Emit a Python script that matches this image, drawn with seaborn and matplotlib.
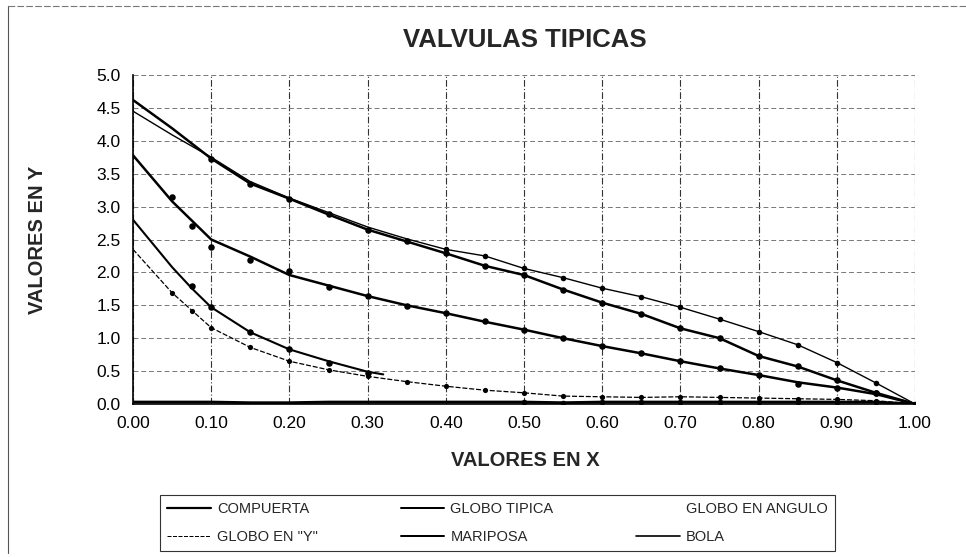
import numpy as np
import pandas as pd
import matplotlib
matplotlib.use("Agg")
import matplotlib.pyplot as plt
from matplotlib.lines import Line2D
import seaborn as sns

sns.set_theme(style="white")
plt.rcParams['font.family'] = ['Liberation Sans', 'DejaVu Sans']

# ---------------- data ----------------
x_full = [0.00, 0.05, 0.10, 0.15, 0.20, 0.25, 0.30, 0.35, 0.40, 0.45, 0.50,
          0.55, 0.60, 0.65, 0.70, 0.75, 0.80, 0.85, 0.90, 0.95, 1.00]

globo_tipica = [4.62, 4.19, 3.73, 3.35, 3.12, 2.88, 2.65, 2.47, 2.29, 2.10, 1.96,
                1.74, 1.54, 1.37, 1.15, 1.00, 0.73, 0.57, 0.36, 0.17, 0.00]
globo_angulo = [4.45, 4.09, 3.75, 3.38, 3.13, 2.91, 2.69, 2.51, 2.35, 2.25, 2.06,
                1.92, 1.76, 1.63, 1.47, 1.29, 1.10, 0.90, 0.63, 0.32, 0.00]
mariposa_line = [3.78, 3.08, 2.50, 2.24, 1.96, 1.80, 1.64, 1.50, 1.38, 1.25, 1.13,
                 1.00, 0.88, 0.77, 0.65, 0.54, 0.44, 0.33, 0.25, 0.15, 0.00]
mariposa_pts_x = [0.05, 0.075, 0.10, 0.15, 0.20, 0.25, 0.30, 0.35, 0.40, 0.45, 0.50,
                  0.55, 0.60, 0.65, 0.70, 0.75, 0.80, 0.85, 0.90, 0.95]
mariposa_pts_y = [3.15, 2.70, 2.38, 2.19, 2.02, 1.78, 1.64, 1.49, 1.38, 1.26, 1.12,
                  1.00, 0.88, 0.77, 0.65, 0.54, 0.44, 0.31, 0.25, 0.17]
bola_x = [0.00, 0.05, 0.075, 0.10, 0.15, 0.20, 0.25, 0.30, 0.32]
bola = [2.80, 2.08, 1.76, 1.47, 1.09, 0.83, 0.65, 0.49, 0.45]
bola_pts_x = [0.075, 0.10, 0.15, 0.20, 0.25, 0.30]
bola_pts_y = [1.79, 1.47, 1.09, 0.83, 0.63, 0.47]
globo_y = [2.35, 1.69, 1.16, 0.86, 0.65, 0.52, 0.42, 0.34, 0.27, 0.21, 0.17,
           0.12, 0.11, 0.10, 0.11, 0.10, 0.09, 0.08, 0.07, 0.05, 0.00]
compuerta = [0.03, 0.03, 0.03, 0.02, 0.02, 0.03, 0.03, 0.03, 0.03, 0.03, 0.03,
             0.02, 0.03, 0.03, 0.03, 0.03, 0.03, 0.03, 0.03, 0.03, 0.00]

x_ticks = [0.0, 0.1, 0.2, 0.3, 0.4, 0.5, 0.6, 0.7, 0.8, 0.9, 1.0]
y_ticks = [0.0, 0.5, 1.0, 1.5, 2.0, 2.5, 3.0, 3.5, 4.0, 4.5, 5.0]
labels = ["COMPUERTA", "GLOBO TIPICA", "GLOBO EN ANGULO",
          'GLOBO EN "Y"', "MARIPOSA", "BOLA"]

# ---------------- figure ----------------
W, H = 966, 557
fig = plt.figure(figsize=(W / 100, H / 100), dpi=100)
ax = fig.add_axes([133 / W, 1 - 404 / H, (915 - 133) / W, (404 - 75) / H])

styles = {
    "GLOBO TIPICA": dict(lw=1.8, ls="-"),
    "GLOBO EN ANGULO": dict(lw=1.0, ls="-"),
    "MARIPOSA": dict(lw=1.8, ls="-"),
    "BOLA": dict(lw=1.5, ls="-"),
    'GLOBO EN "Y"': dict(lw=0.9, ls=(0, (4, 1.5))),
    "COMPUERTA": dict(lw=2.0, ls="-"),
}

def line(xs, ys, name):
    df = pd.DataFrame({"x": xs, "y": ys})
    sns.lineplot(data=df, x="x", y="y", ax=ax, color="black", sort=True,
                 linewidth=styles[name]["lw"], linestyle=styles[name]["ls"],
                 legend=False)

def pts(xs, ys, s=22):
    df = pd.DataFrame({"x": xs, "y": ys})
    sns.scatterplot(data=df, x="x", y="y", ax=ax, color="black", s=s,
                    edgecolor="black", linewidth=0, legend=False, zorder=5)

line(x_full, globo_tipica, "GLOBO TIPICA")
line(x_full, globo_angulo, "GLOBO EN ANGULO")
line(x_full, mariposa_line, "MARIPOSA")
line(bola_x, bola, "BOLA")
line(x_full, globo_y, 'GLOBO EN "Y"')
line(x_full, compuerta, "COMPUERTA")

pts(x_full[2:-1], globo_tipica[2:-1])
pts(x_full[8:-1], globo_angulo[8:-1], s=16)
pts(mariposa_pts_x, mariposa_pts_y)
pts(bola_pts_x, bola_pts_y)
pts([0.05, 0.075] + x_full[2:-1], [1.69, 1.42] + globo_y[2:-1], s=14)
pts(x_full[10:], compuerta[10:], s=16)

# axes styling
ax.set_xlim(0, 1.0)
ax.set_ylim(0, 5.0)
ax.set_xticks(x_ticks)
ax.set_yticks(y_ticks)
ax.set_xticklabels([f"{v:.2f}" for v in x_ticks], fontsize=12.5)
ax.set_yticklabels([f"{v:.1f}" for v in y_ticks], fontsize=12.5)
ax.set_xlabel("")
ax.set_ylabel("")
ax.tick_params(axis="both", direction="out", length=3, width=0.8,
               colors="black", pad=6)
ax.tick_params(axis="x", length=0, pad=9)
for side in ["top", "right"]:
    ax.spines[side].set_visible(False)
for side in ["left", "bottom"]:
    ax.spines[side].set_color("black")
    ax.spines[side].set_linewidth(1.2)
ax.xaxis.grid(True, color="#333333", linestyle=(0, (6, 2, 1, 2)), linewidth=0.8)
ax.yaxis.grid(True, color="#777777", linestyle=(0, (5, 3)), linewidth=0.7)
ax.set_axisbelow(True)

# texts
fig.text(525 / W, 1 - 40 / H, "VALVULAS TIPICAS", ha="center", va="center",
         fontsize=18.5, fontweight="bold")
fig.text(38 / W, 1 - 240 / H, "VALORES EN Y", ha="center", va="center",
         rotation=90, fontsize=14.5, fontweight="bold")
fig.text(525 / W, 1 - 460 / H, "VALORES EN X", ha="center", va="center",
         fontsize=14.5, fontweight="bold")

# legend
def h(name):
    return Line2D([0], [0], color="black", lw=styles[name]["lw"] * 0.8,
                  ls=styles[name]["ls"])
order = ["COMPUERTA", 'GLOBO EN "Y"', "GLOBO TIPICA", "MARIPOSA",
         "GLOBO EN ANGULO", "BOLA"]
handles = [h(n) for n in order]
handles[4] = Line2D([0], [0], color="white", lw=0)
leg = fig.legend(handles, order, ncol=3, loc="upper left",
                 bbox_to_anchor=(160 / W, 1 - 556 / H, (835 - 160) / W, 61 / H),
                 mode="expand", frameon=True, fancybox=False, fontsize=10.5,
                 handlelength=3.0, handletextpad=0.4, labelspacing=0.95,
                 borderpad=0.5, borderaxespad=0)
leg.get_frame().set_edgecolor("black")
leg.get_frame().set_linewidth(0.8)

# outer chart frame (left and top edges visible)
fig.add_artist(Line2D([8 / W, 8 / W], [1 - 6 / H, 1 - 553 / H], color="#555555",
                      lw=0.8, transform=fig.transFigure))
fig.add_artist(Line2D([8 / W, 1.0], [1 - 6 / H, 1 - 6 / H], color="#777777",
                      lw=0.8, ls=(0, (6, 2)), transform=fig.transFigure))

fig.savefig("out.png", dpi=100, facecolor="white")
